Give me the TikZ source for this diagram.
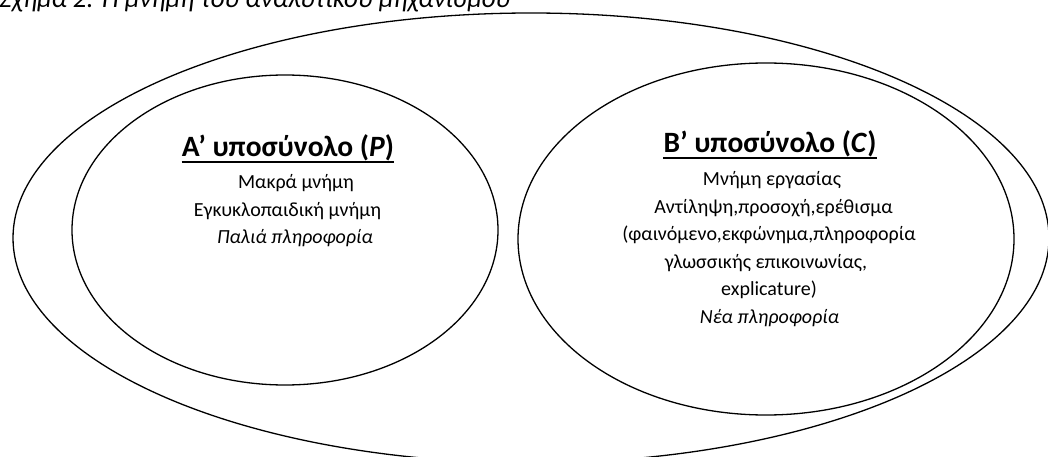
\documentclass[tikz,border=0pt]{standalone}
\usepackage{fontspec}
\setmainfont{Carlito}
\begin{document}
\begin{tikzpicture}[x=1pt,y=-1pt,
  ring/.style={draw=black,line width=1.3pt},
  body/.style={inner sep=0pt,anchor=base,font=\fontsize{20}{24}\selectfont},
  ttl/.style={inner sep=0pt,anchor=base,font=\fontsize{29.5}{33}\selectfont\bfseries},
  captiontext/.style={inner sep=0pt,anchor=base west,font=\fontsize{27}{31}\selectfont\itshape},
  uline/.style={line width=1.6pt}]
\useasboundingbox (0,0) rectangle (1048,457);
\begin{scope}
\clip (0,0) rectangle (1048,457);
% caption (cut at top)
\node[captiontext] (caption) at (-1,7.5) {Σχήμα 2: Η μνήμη του αναλυτικού μηχανισμού};
% outer set
\draw[ring] (531,238) ellipse [x radius=518, y radius=225];
% subset A
\draw[ring] (285,230) ellipse [x radius=213, y radius=155];
% subset B
\draw[ring] (766,239) ellipse [x radius=248, y radius=176];
\end{scope}
% A texts
\node[ttl] (ta) at (288,157) {Α’ υποσύνολο (\textit{P})};
\draw[uline] ([yshift=-5]ta.base west) -- ([yshift=-5]ta.base east);
\node[body] (a1) at (296,188.5) {Μακρά μνήμη};
\node[body] (a2) at (287.5,216) {Εγκυκλοπαιδική μνήμη};
\node[body] (a3) at (295,243.5) {\itshape Παλιά πληροφορία};
% B texts
\node[ttl] (tb) at (770,153) {Β’ υποσύνολο (\textit{C})};
\draw[uline] ([yshift=-5]tb.base west) -- ([yshift=-5]tb.base east);
\node[body] (b1) at (772,185.5) {Μνήμη εργασίας};
\node[body] (b2) at (773.5,213) {Αντίληψη,προσοχή,ερέθισμα};
\node[body] (b3) at (769,240.5) {(φαινόμενο,εκφώνημα,πληροφορία};
\node[body] (b4) at (766,268) {γλωσσικής επικοινωνίας,};
\node[body] (b5) at (769,295.5) {explicature)};
\node[body] (b6) at (769.5,323) {\itshape Νέα πληροφορία};
\end{tikzpicture}
\end{document}
